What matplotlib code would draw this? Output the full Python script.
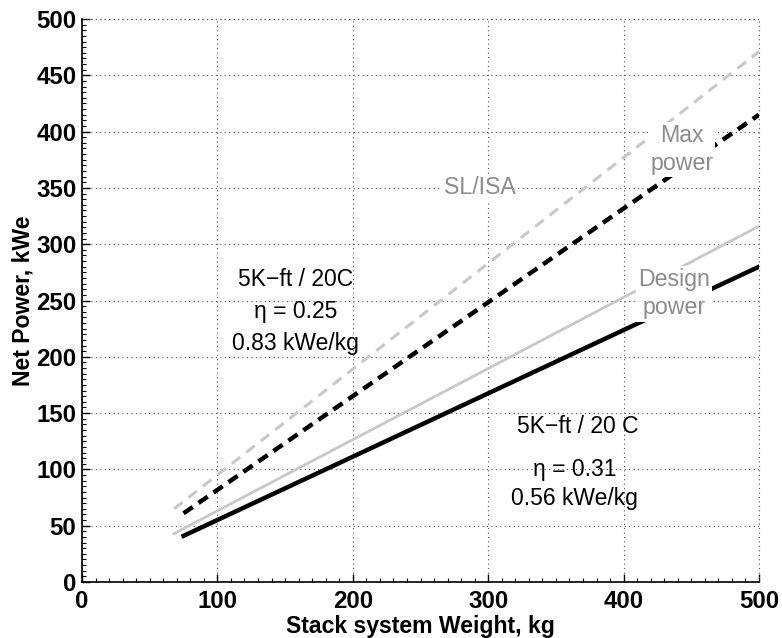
import matplotlib
matplotlib.use("Agg")
import matplotlib.pyplot as plt
from matplotlib.ticker import MultipleLocator

plt.rcParams['font.family'] = ['Liberation Sans', 'DejaVu Sans']

# Data (endpoints of straight lines)
x_sl_max = [68, 500]
y_sl_max = [65, 471]
x_5k_max = [75, 500]
y_5k_max = [61, 415]
x_sl_design = [68, 500]
y_sl_design = [43, 316]
x_5k_design = [75, 500]
y_5k_design = [41, 280]

xticks = [0, 100, 200, 300, 400, 500]
yticks = [0, 50, 100, 150, 200, 250, 300, 350, 400, 450, 500]

fig = plt.figure(figsize=(7.82, 6.38), dpi=100)
ax = fig.add_axes([82/782, (638-582)/638, (759-82)/782, (582-19)/638])

lgray = '#c8c8c8'
ax.plot(x_sl_max, y_sl_max, color=lgray, lw=2.2, ls=(0, (3.5, 2.5)), zorder=3)
ax.plot(x_5k_max, y_5k_max, color='black', lw=3.2, ls=(0, (2.5, 1.6)), zorder=3)
ax.plot(x_sl_design, y_sl_design, color=lgray, lw=2.0, zorder=3)
ax.plot(x_5k_design, y_5k_design, color='black', lw=3.2, zorder=3)

ax.set_xlim(0, 500)
ax.set_ylim(0, 500)
ax.set_xticks(xticks)
ax.set_yticks(yticks)
ax.xaxis.set_minor_locator(MultipleLocator(10))
ax.yaxis.set_minor_locator(MultipleLocator(5))
ax.tick_params(which='major', direction='in', length=6, width=1, labelsize=17.3, pad=4)
ax.tick_params(axis='x', which='major', pad=6)
ax.tick_params(which='minor', direction='in', length=3, width=0.8)
for lab in ax.get_xticklabels() + ax.get_yticklabels():
    lab.set_fontweight('bold')
ax.spines['top'].set_visible(False)
ax.spines['right'].set_visible(False)
ax.spines['left'].set_linewidth(1.2)
ax.spines['bottom'].set_linewidth(1.2)
ax.grid(True, which='major', color='#555555', ls=(0, (1, 3)), lw=0.8)
# grid lines at the top and right limits
ax.axhline(500, color='#555555', ls=(0, (1, 3)), lw=0.8, clip_on=False)
ax.axvline(500, color='#555555', ls=(0, (1, 3)), lw=0.8, clip_on=False)

ax.set_xlabel('Stack system Weight, kg', fontsize=16.6, fontweight='bold', labelpad=1)
ax.set_ylabel('Net Power, kWe', fontsize=16.6, fontweight='bold', labelpad=1)

gray = '#8c8c8c'
box = dict(facecolor='white', edgecolor='none', pad=1.5)
ax.text(294, 350, 'SL/ISA', color=gray, fontsize=16.7, ha='center', va='center', bbox=box, zorder=4)
ax.text(443, 384, 'Max\npower', color=gray, fontsize=16.7, ha='center', va='center',
        linespacing=1.3, bbox=box, zorder=4)
ax.text(437, 256, 'Design\npower', color=gray, fontsize=16.7, ha='center', va='center',
        linespacing=1.3, bbox=box, zorder=4)
ax.text(158, 240, '5K\u2212ft / 20C\n\u03b7 = 0.25\n0.83 kWe/kg', color='black', fontsize=16.5,
        ha='center', va='center', linespacing=1.5, zorder=4)
ax.text(366, 138, '5K\u2212ft / 20 C', color='black', fontsize=16.5, ha='center', va='center', zorder=4)
ax.text(364, 87, '\u03b7 = 0.31\n0.56 kWe/kg', color='black', fontsize=16.5,
        ha='center', va='center', linespacing=1.3, zorder=4)

fig.savefig('out.png', dpi=100)
